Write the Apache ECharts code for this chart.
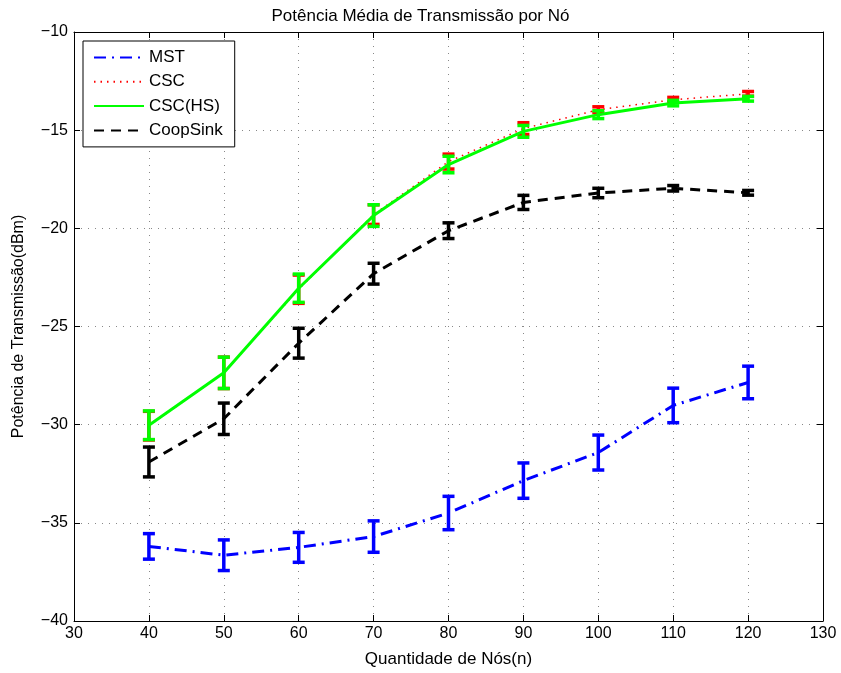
<!DOCTYPE html>
<html>
<head>
<meta charset="utf-8">
<script src="https://cdn.jsdelivr.net/npm/echarts@6/dist/echarts.min.js"></script>
<style>html,body{margin:0;padding:0;background:#fff;}#c{width:841px;height:673px;}</style>
</head>
<body>
<div id="c"></div>
<script>
var xs = [40, 50, 60, 70, 80, 90, 100, 110, 120];
var mst = [-36.2, -36.65, -36.25, -35.7, -34.5, -32.85, -31.42, -29.02, -27.85];
var mstErr = [0.65, 0.78, 0.76, 0.8, 0.85, 0.9, 0.89, 0.88, 0.83];
var csc = [-30.05, -27.36, -23.1, -19.3, -16.6, -14.92, -13.96, -13.45, -13.15];
var cscErr = [0.73, 0.8, 0.72, 0.5, 0.38, 0.3, 0.15, 0.12, 0.12];
var cscHs = [-30.03, -27.36, -23.05, -19.35, -16.75, -15.06, -14.21, -13.62, -13.4];
var cscHsErr = [0.73, 0.8, 0.72, 0.55, 0.42, 0.3, 0.2, 0.14, 0.12];
var coop = [-31.9, -29.7, -25.85, -22.31, -20.12, -18.68, -18.2, -17.96, -18.19];
var coopErr = [0.76, 0.8, 0.76, 0.53, 0.4, 0.36, 0.24, 0.14, 0.12];

var FONT = 'Liberation Sans';
var FS = 16;
function pts(v) { return xs.map(function (x, i) { return [x, v[i]]; }); }
function errData(v, e) { return xs.map(function (x, i) { return [x, v[i], e[i]]; }); }
function errSeries(name, v, e, color, z) {
  return {
    type: 'custom', name: name, z: z, silent: true,
    data: errData(v, e),
    encode: { x: 0, y: 1 },
    renderItem: function (params, api) {
      var x = api.value(0), c = api.value(1), er = api.value(2);
      var top = api.coord([x, c + er]);
      var bot = api.coord([x, c - er]);
      var hw = 6;
      var st = { stroke: color, lineWidth: 3.5 };
      return { type: 'group', children: [
        { type: 'line', shape: { x1: top[0], y1: top[1], x2: bot[0], y2: bot[1] }, style: st },
        { type: 'line', shape: { x1: top[0] - hw, y1: top[1], x2: top[0] + hw, y2: top[1] }, style: st },
        { type: 'line', shape: { x1: bot[0] - hw, y1: bot[1], x2: bot[0] + hw, y2: bot[1] }, style: st }
      ]};
    }
  };
}
function lineSeries(name, v, color, width, type, z) {
  return {
    type: 'line', name: name, z: z, data: pts(v), symbol: 'none', showSymbol: false,
    lineStyle: { color: color, width: width, type: type },
    itemStyle: { color: color, opacity: 0 }, animation: false
  };
}
function fmt(v) { return String(v).replace('-', '\u2212'); }

var chart = echarts.init(document.getElementById('c'), null, { renderer: 'canvas' });
chart.setOption({
  animation: false,
  backgroundColor: '#fff',
  title: {
    text: 'Potência Média de Transmissão por Nó', left: 'center', top: 3,
    textStyle: { fontFamily: FONT, fontSize: 17, fontWeight: 'normal', color: '#000' }
  },
  grid: { left: 74, right: 18, top: 32, bottom: 50, show: false },
  legend: {
    orient: 'vertical', left: 83, top: 41,
    data: ['MST', 'CSC', 'CSC(HS)', 'CoopSink'],
    itemWidth: 50, itemHeight: 14, itemGap: 7.3,
    padding: [8, 12, 8, 10],
    borderColor: '#000', borderWidth: 1, backgroundColor: '#fff',
    itemStyle: { opacity: 0 },
    textStyle: { fontFamily: FONT, fontSize: 17, color: '#000' }
  },
  xAxis: [{
    type: 'value', min: 30, max: 130, interval: 10, position: 'bottom',
    name: 'Quantidade de Nós(n)', nameLocation: 'middle', nameGap: 30,
    nameTextStyle: { fontFamily: FONT, fontSize: 17, color: '#000' },
    axisLine: { show: true, onZero: false, lineStyle: { color: '#000', width: 1 } },
    axisTick: { show: true, inside: true, length: 6, lineStyle: { color: '#000' } },
    axisLabel: { color: '#000', fontFamily: FONT, fontSize: FS, margin: 5 },
    splitLine: { show: true, lineStyle: { color: '#888', type: [1, 6], width: 1 } }
  }, {
    type: 'value', min: 30, max: 130, interval: 10, position: 'top',
    axisLine: { show: true, onZero: false, lineStyle: { color: '#000', width: 1 } },
    axisTick: { show: true, inside: true, length: 6, lineStyle: { color: '#000' } },
    axisLabel: { show: false }, splitLine: { show: false }
  }],
  yAxis: [{
    type: 'value', min: -40, max: -10, interval: 5, position: 'left',
    name: 'Potência de Transmissão(dBm)', nameLocation: 'middle', nameGap: 47,
    nameTextStyle: { fontFamily: FONT, fontSize: 16, color: '#000' },
    axisLine: { show: true, onZero: false, lineStyle: { color: '#000', width: 1 } },
    axisTick: { show: true, inside: true, length: 6, lineStyle: { color: '#000' } },
    axisLabel: { color: '#000', fontFamily: FONT, fontSize: FS, formatter: fmt, margin: 6 },
    splitLine: { show: true, lineStyle: { color: '#888', type: [1, 6], width: 1 } }
  }, {
    type: 'value', min: -40, max: -10, interval: 5, position: 'right',
    axisLine: { show: true, onZero: false, lineStyle: { color: '#000', width: 1 } },
    axisTick: { show: true, inside: true, length: 6, lineStyle: { color: '#000' } },
    axisLabel: { show: false }, splitLine: { show: false }
  }],
  series: [
    errSeries('MST-err', mst, mstErr, '#0000ff', 2),
    lineSeries('MST', mst, '#0000ff', 3, [12, 6, 2, 6], 2),
    errSeries('CSC-err', csc, cscErr, '#ff0000', 3),
    lineSeries('CSC', csc, '#ff0000', 1.5, [1.5, 5], 3),
    errSeries('CSCHS-err', cscHs, cscHsErr, '#00ff00', 4),
    lineSeries('CSC(HS)', cscHs, '#00ff00', 3, 'solid', 4),
    errSeries('Coop-err', coop, coopErr, '#000000', 5),
    lineSeries('CoopSink', coop, '#000000', 3, [10, 7], 5)
  ]
});
</script>
</body>
</html>
